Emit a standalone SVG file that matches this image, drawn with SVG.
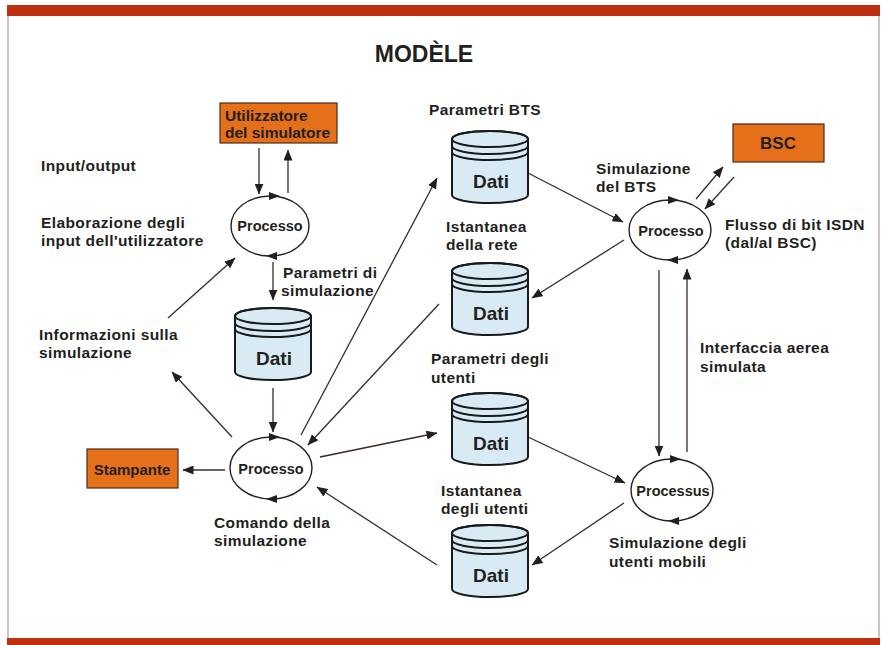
<svg xmlns="http://www.w3.org/2000/svg" width="883" height="645" viewBox="0 0 883 645">
<style>
  .t{font-family:"Liberation Sans",Arial,sans-serif;font-weight:700;font-size:15.5px;fill:#231f20}
  .l{letter-spacing:0.4px}
  .p{font-size:14.5px}
  .c{text-anchor:middle}
  .title{font-family:"Liberation Sans",Arial,sans-serif;font-weight:700;font-size:23px;fill:#231f20;text-anchor:middle}
  .dati{font-family:"Liberation Sans",Arial,sans-serif;font-weight:700;font-size:19px;fill:#231f20;text-anchor:middle}
  .box{fill:#e6701a;stroke:#4a2a1a;stroke-width:1.2}
  .ell{fill:#fff;stroke:#2a2020;stroke-width:1.4}
  .cylb{fill:#d8ebf5;stroke:#1a1a1a;stroke-width:2}
  .cyll{fill:none;stroke:#1a1a1a;stroke-width:2}
  .ar{fill:none;stroke:#3a2a25;stroke-width:1.3;marker-end:url(#ah)}
  .tri{fill:#231f20}
</style>
<defs>
  <marker id="ah" viewBox="0 0 11 9" refX="10.5" refY="4.5" markerWidth="11" markerHeight="9" markerUnits="userSpaceOnUse" orient="auto">
    <path d="M0,0 L11,4.5 L0,9 z" fill="#231f20"/>
  </marker>
  <path id="tr" d="M-5,-4 L6,0 L-5,4 z"/>
  <g id="cyl">
    <path class="cylb" d="M0,8 A38,8 0 0 1 76,8 V64 A38,8 0 0 1 0,64 Z"/>
    <ellipse class="cyll" cx="38" cy="8" rx="38" ry="8"/>
    <path class="cyll" d="M0,8 V22 M76,8 V22 M0,15 A38,8 0 0 0 76,15 M0,21 A38,8 0 0 0 76,21"/>
    <text class="dati" x="39" y="57">Dati</text>
  </g>
</defs>
<rect width="883" height="645" fill="#fff"/>
<!-- frame -->
<rect x="7" y="5" width="873" height="11" fill="#bf3010"/>
<rect x="7" y="638" width="873" height="7" fill="#bf3010"/>
<line x1="8" y1="16" x2="8" y2="638" stroke="#9a8a80" stroke-width="1"/>
<line x1="879" y1="16" x2="879" y2="638" stroke="#9a8a80" stroke-width="1"/>
<text class="title" x="424" y="62">MODÈLE</text>

<!-- connectors -->
<g id="connectors">
  <line class="ar" x1="259" y1="148" x2="259" y2="194"/>
  <line class="ar" x1="288" y1="193" x2="288" y2="150"/>
  <line class="ar" x1="168" y1="318" x2="235" y2="258"/>
  <line class="ar" x1="273" y1="262" x2="273" y2="300"/>
  <line class="ar" x1="273" y1="388" x2="273" y2="432"/>
  <line class="ar" x1="232" y1="437" x2="172" y2="372"/>
  <line class="ar" x1="225" y1="470" x2="183" y2="470"/>
  <line class="ar" x1="301" y1="435" x2="437" y2="178"/>
  <line class="ar" x1="439" y1="304" x2="308" y2="445"/>
  <line class="ar" x1="320" y1="457" x2="437" y2="433"/>
  <line class="ar" x1="437" y1="565" x2="317" y2="487"/>
  <line class="ar" x1="528" y1="173" x2="623" y2="222"/>
  <line class="ar" x1="624" y1="240" x2="532" y2="298"/>
  <line class="ar" x1="696" y1="199" x2="723" y2="167"/>
  <line class="ar" x1="734" y1="177" x2="705" y2="209"/>
  <line class="ar" x1="659" y1="270" x2="659" y2="456"/>
  <line class="ar" x1="687" y1="452" x2="687" y2="269"/>
  <line class="ar" x1="528" y1="437" x2="625" y2="483"/>
  <line class="ar" x1="624" y1="503" x2="532" y2="565"/>
</g>

<!-- boxes -->
<g id="utilizzatore">
  <rect class="box" x="220" y="103" width="117" height="40"/>
  <text class="t" x="225" y="121">Utilizzatore</text>
  <text class="t" x="225" y="138">del simulatore</text>
</g>
<g id="bsc">
  <rect class="box" x="733" y="124" width="91" height="38"/>
  <text class="t c" x="778" y="149" style="font-size:17px">BSC</text>
</g>
<g id="stampante">
  <rect class="box" x="87" y="449" width="91" height="39"/>
  <text class="t c" x="132" y="475" style="font-size:15px">Stampante</text>
</g>

<!-- processes -->
<g id="proc1">
  <ellipse class="ell" cx="270" cy="226" rx="39" ry="30"/>
  <use href="#tr" class="tri" x="274" y="196"/>
  <use href="#tr" class="tri" transform="translate(272,256) rotate(180)"/>
  <text class="t p c" x="270" y="231">Processo</text>
</g>
<g id="proc2">
  <ellipse class="ell" cx="271" cy="468" rx="41" ry="31"/>
  <use href="#tr" class="tri" x="274" y="437"/>
  <use href="#tr" class="tri" transform="translate(272,499) rotate(180)"/>
  <text class="t p c" x="271" y="474">Processo</text>
</g>
<g id="proc3">
  <ellipse class="ell" cx="670" cy="230" rx="41" ry="30"/>
  <use href="#tr" class="tri" x="673" y="200"/>
  <use href="#tr" class="tri" transform="translate(673,260) rotate(180)"/>
  <text class="t p c" x="671" y="236">Processo</text>
</g>
<g id="proc4">
  <ellipse class="ell" cx="672" cy="490" rx="41" ry="31"/>
  <use href="#tr" class="tri" x="675" y="459"/>
  <use href="#tr" class="tri" transform="translate(674,521) rotate(180)"/>
  <text class="t p c" x="673" y="496">Processus</text>
</g>

<!-- data stores -->
<g id="datiL"><use href="#cyl" x="235" y="308"/></g>
<g id="dati1"><use href="#cyl" x="452" y="131"/></g>
<g id="dati2"><use href="#cyl" x="452" y="263"/></g>
<g id="dati3"><use href="#cyl" x="452" y="393"/></g>
<g id="dati4"><use href="#cyl" x="452" y="525"/></g>

<!-- labels -->
<g id="labels">
  <text class="t l" x="41" y="171">Input/output</text>
  <text class="t l" x="41" y="228">Elaborazione degli</text>
  <text class="t l" x="41" y="246">input dell'utilizzatore</text>
  <text class="t l" x="39" y="340">Informazioni sulla</text>
  <text class="t l" x="39" y="358">simulazione</text>
  <text class="t l" x="283" y="278">Parametri di</text>
  <text class="t l" x="281" y="296">simulazione</text>
  <text class="t l" x="214" y="528">Comando della</text>
  <text class="t l" x="214" y="546">simulazione</text>
  <text class="t l" x="429" y="115">Parametri BTS</text>
  <text class="t l" x="446" y="232">Istantanea</text>
  <text class="t l" x="446" y="250">della rete</text>
  <text class="t l" x="431" y="364">Parametri degli</text>
  <text class="t l" x="431" y="383">utenti</text>
  <text class="t l" x="441" y="496">Istantanea</text>
  <text class="t l" x="441" y="514">degli utenti</text>
  <text class="t l" x="596" y="174">Simulazione</text>
  <text class="t l" x="596" y="192">del BTS</text>
  <text class="t l" x="725" y="230">Flusso di bit ISDN</text>
  <text class="t l" x="725" y="248">(dal/al BSC)</text>
  <text class="t l" x="700" y="353">Interfaccia aerea</text>
  <text class="t l" x="700" y="372">simulata</text>
  <text class="t l" x="609" y="548">Simulazione degli</text>
  <text class="t l" x="609" y="567">utenti mobili</text>
</g>
</svg>
